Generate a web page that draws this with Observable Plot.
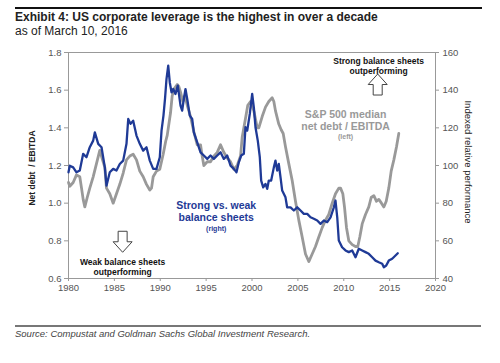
<!DOCTYPE html>
<html><head><meta charset="utf-8">
<script src="https://cdn.jsdelivr.net/npm/d3@7"></script>
<script src="https://cdn.jsdelivr.net/npm/@observablehq/plot@0.6"></script>
<style>
body{margin:0;width:500px;height:363px;background:#fff;font-family:"Liberation Sans",Arial,sans-serif;position:relative;overflow:hidden}
#topRule{position:absolute;left:15px;top:7px;width:467px;height:2px;background:#111}
#title{position:absolute;left:15px;top:10px;font-size:12px;line-height:14px;font-weight:bold;color:#222;white-space:nowrap}
#subtitle{position:absolute;left:15px;top:24px;font-size:12px;line-height:14px;color:#222;white-space:nowrap}
#chart{position:absolute;left:0;top:40px;width:500px;height:280px}
#chart svg{position:absolute;left:0;top:0}
#bottomRule{position:absolute;left:15px;top:325px;width:466px;height:1.5px;background:#777}
#source{position:absolute;left:15px;top:328px;font-size:9.5px;line-height:12px;font-style:italic;color:#444;white-space:nowrap}
.ylab{position:absolute;white-space:pre;font-size:8.5px;color:#222}
#ylabL{left:32px;top:168px;transform:translate(-50%,-50%) rotate(-90deg);font-weight:bold}
#ylabR{left:468px;top:162px;transform:translate(-50%,-50%) rotate(90deg);font-size:9.5px}
</style></head>
<body>
<div id="topRule"></div>
<div id="title">Exhibit 4: US corporate leverage is the highest in over a decade</div>
<div id="subtitle">as of March 10, 2016</div>
<div id="chart"></div>
<div class="ylab" id="ylabL">Net debt  / EBITDA</div>
<div class="ylab" id="ylabR">Indexed relative performance</div>
<div id="bottomRule"></div>
<div id="source">Source: Compustat and Goldman Sachs Global Investment Research.</div>
<script>
// S&P 500 median net debt / EBITDA (left axis)
const grayYears = [1980.0,1980.14,1980.51,1980.87,1981.23,1981.42,1981.60,1981.78,1982.04,1982.32,1982.69,1983.05,1983.41,1983.71,1983.96,1984.14,1984.50,1984.87,1985.23,1985.59,1985.96,1986.32,1986.68,1987.05,1987.41,1987.77,1988.14,1988.50,1988.86,1989.05,1989.23,1989.59,1989.95,1990.32,1990.60,1990.76,1991.12,1991.30,1991.55,1991.85,1992.02,1992.21,1992.46,1992.68,1992.94,1993.30,1993.66,1994.03,1994.39,1994.57,1994.75,1995.12,1995.48,1995.84,1996.21,1996.57,1996.93,1997.30,1997.66,1998.02,1998.39,1998.75,1998.93,1999.29,1999.54,1999.84,2000.20,2000.57,2000.74,2001.11,2001.47,2001.83,2002.20,2002.38,2002.56,2002.92,2003.18,2003.40,2003.65,2004.01,2004.38,2004.74,2005.10,2005.47,2005.83,2006.19,2006.56,2006.92,2007.28,2007.65,2008.01,2008.37,2008.74,2009.10,2009.46,2009.65,2009.90,2010.08,2010.30,2010.55,2010.92,2011.28,2011.53,2011.75,2012.01,2012.37,2012.73,2012.99,2013.28,2013.57,2013.82,2014.11,2014.37,2014.63,2014.91,2015.17,2015.46,2015.75,2016.00];
const grayValues = [1.11,1.09,1.11,1.15,1.14,1.08,1.02,0.98,1.03,1.08,1.14,1.21,1.28,1.23,1.19,1.08,1.05,1.00,1.05,1.10,1.16,1.23,1.25,1.26,1.23,1.17,1.14,1.10,1.07,1.08,1.14,1.17,1.18,1.26,1.33,1.36,1.48,1.57,1.61,1.63,1.62,1.59,1.54,1.57,1.52,1.46,1.38,1.31,1.31,1.25,1.20,1.22,1.22,1.25,1.27,1.31,1.27,1.24,1.22,1.18,1.20,1.25,1.35,1.45,1.52,1.54,1.49,1.40,1.40,1.46,1.51,1.54,1.56,1.54,1.49,1.42,1.39,1.37,1.30,1.21,1.12,1.01,0.91,0.82,0.73,0.69,0.73,0.77,0.82,0.87,0.91,0.94,1.00,1.05,1.08,1.08,1.05,0.98,0.87,0.80,0.78,0.77,0.77,0.82,0.89,0.94,0.98,1.03,1.04,1.01,1.02,1.00,0.98,1.01,1.08,1.17,1.23,1.30,1.37];

// Strong vs. weak balance sheets, indexed relative performance (right axis)
const blueYears = [1980.0,1980.14,1980.51,1980.87,1981.23,1981.60,1981.96,1982.32,1982.69,1982.87,1983.24,1983.60,1983.96,1984.14,1984.50,1984.87,1985.23,1985.59,1985.96,1986.32,1986.51,1986.76,1987.05,1987.41,1987.77,1988.14,1988.50,1988.86,1989.23,1989.59,1989.95,1990.14,1990.35,1990.52,1990.68,1990.87,1991.04,1991.23,1991.41,1991.66,1991.91,1992.21,1992.39,1992.57,1992.75,1992.94,1993.22,1993.48,1993.66,1994.03,1994.39,1994.75,1995.12,1995.48,1995.84,1996.21,1996.57,1996.93,1997.30,1997.66,1998.02,1998.31,1998.56,1998.82,1999.11,1999.29,1999.48,1999.76,2000.02,2000.20,2000.38,2000.63,2000.85,2001.00,2001.22,2001.47,2001.66,2001.83,2002.09,2002.38,2002.56,2002.75,2002.92,2003.11,2003.29,2003.65,2003.83,2004.20,2004.56,2004.93,2005.29,2005.65,2006.02,2006.38,2006.74,2007.11,2007.47,2007.83,2008.20,2008.56,2008.92,2009.10,2009.29,2009.46,2009.82,2010.19,2010.55,2010.92,2011.28,2011.64,2012.01,2012.37,2012.73,2013.10,2013.46,2013.82,2014.19,2014.37,2014.63,2014.91,2015.28,2015.64,2015.89];
const blueValues = [96.4,99.9,99.0,96.4,97.3,106.2,104.4,109.7,113.2,117.6,111.5,109.7,99.0,89.3,96.4,98.2,97.3,100.8,102.6,111.5,124.7,122.1,123.8,115.9,111.5,107.9,109.7,102.6,98.2,98.2,104.4,118.5,126.5,135.5,145.9,153.0,144.1,138.8,140.6,138.0,142.4,131.8,129.1,135.3,140.6,135.3,126.5,124.7,117.6,112.3,107.0,105.3,103.5,105.3,103.5,105.3,107.0,103.5,105.3,99.9,98.2,96.4,101.7,105.3,106.2,120.3,118.5,127.4,138.0,130.9,120.3,113.2,104.4,92.0,88.4,90.2,87.6,92.0,92.0,99.0,102.6,97.3,100.8,93.7,86.7,83.1,77.8,77.8,76.1,77.8,76.1,74.3,74.3,72.5,71.7,70.8,69.0,70.8,69.9,72.5,77.8,81.4,72.5,60.2,56.6,54.9,54.0,54.9,51.3,55.8,54.9,54.0,53.1,51.3,49.5,48.6,47.8,46.0,46.9,49.5,50.5,52.2,53.4];

// Axes
const xTicks = [1980,1985,1990,1995,2000,2005,2010,2015,2020];
const leftTicks = [0.6,0.8,1.0,1.2,1.4,1.6,1.8];
const rightTicks = [40,60,80,100,120,140,160];

// Annotations
const noteText = ["Strong balance sheets\noutperforming","Weak balance sheets\noutperforming"];
const noteYear = [2013.8, 1985.9];
const noteLevel = [1.73, 0.66];
const arrowDir = ["up","down"];
const arrowYear = [2013.7, 1985.9];
const arrowLevel = [1.63, 0.795];
const grayNote = ["S&P 500 median\nnet debt / EBITDA","(left)"];
const grayNoteYear = [2010.2, 2010.2];
const grayNoteLevel = [1.44, 1.353];
const blueNote = ["Strong vs. weak\nbalance sheets","(right)"];
const blueNoteYear = [1996.1, 1996.1];
const blueNoteLevel = [75.6, 66.5];

const grayData = grayYears.map((year,i)=>({year, value: grayValues[i]}));
const blueData = blueYears.map((year,i)=>({year, value: blueValues[i]}));
const notes = noteText.map((t,i)=>({t, year: noteYear[i], v: noteLevel[i]}));
const arrows = arrowDir.map((d,i)=>({d, year: arrowYear[i], v: arrowLevel[i]}));
const gNotes = grayNote.map((t,i)=>({t, year: grayNoteYear[i], v: grayNoteLevel[i], fs: i===0?10.5:7}));
const bNotes = blueNote.map((t,i)=>({t, year: blueNoteYear[i], v: blueNoteLevel[i], fs: i===0?10.5:7}));

// hollow block-arrow symbols
function blockArrow(sign){
  return {draw(ctx, size){
    const k = Math.sqrt(size/Math.PI)/10;
    const pts = [[-4.5,-10.5],[4.5,-10.5],[4.5,0],[9.5,0],[0,10.5],[-9.5,0],[-4.5,0]];
    pts.forEach(([x,y],i)=>{ const px=x*k, py=sign*y*k; if(i===0) ctx.moveTo(px,py); else ctx.lineTo(px,py); });
    ctx.closePath();
  }};
}
const downArrow = blockArrow(1), upArrow = blockArrow(-1);

const GRAY = "#999999", BLUE = "#1f3a96";
const common = {width:500, height:280, marginLeft:68, marginRight:65, marginTop:12, marginBottom:42,
  style:{fontFamily:"'Liberation Sans', Arial, sans-serif", fontSize:"9.5px", color:"#555", background:"transparent", overflow:"visible"}};

const p1 = Plot.plot({
  ...common,
  x:{domain:[1980,2020]},
  y:{domain:[0.6,1.8]},
  marks:[
    Plot.frame({stroke:"#999"}),
    Plot.axisX({ticks:xTicks, tickFormat:d=>String(d), tickSize:3, tickPadding:3, stroke:"#999", fill:"#555", label:null}),
    Plot.axisY({anchor:"left", ticks:leftTicks, tickFormat:d=>d.toFixed(1), tickSize:4, tickPadding:3, stroke:"#999", fill:"#555", label:null}),
    Plot.line(grayData, {x:"year", y:"value", stroke:GRAY, strokeWidth:2.8}),
    Plot.text(notes, {x:"year", y:"v", text:"t", fontSize:8.5, fontWeight:"bold", fill:"#111", lineHeight:1.18}),
    Plot.dot(arrows.filter(a=>a.d==="up"), {x:"year", y:"v", r:10, symbol:upArrow, fill:"white", stroke:"#444", strokeWidth:1}),
    Plot.dot(arrows.filter(a=>a.d==="down"), {x:"year", y:"v", r:10, symbol:downArrow, fill:"white", stroke:"#444", strokeWidth:1}),
    Plot.text(gNotes, {x:"year", y:"v", text:"t", fontSize:d=>d.fs, fontWeight:"bold", fill:GRAY, lineHeight:1.15})
  ]
});
const p2 = Plot.plot({
  ...common,
  x:{domain:[1980,2020], axis:null},
  y:{domain:[40,160]},
  marks:[
    Plot.axisY({anchor:"right", ticks:rightTicks, tickFormat:d=>String(d), tickSize:3, tickPadding:4, stroke:"#999", fill:"#555", label:null}),
    Plot.line(blueData, {x:"year", y:"value", stroke:BLUE, strokeWidth:2.3}),
    Plot.text(bNotes, {x:"year", y:"v", text:"t", fontSize:d=>d.fs, fontWeight:"bold", fill:BLUE, lineHeight:1.1})
  ]
});
const c = document.getElementById("chart");
c.appendChild(p1); c.appendChild(p2);
</script>
</body></html>
